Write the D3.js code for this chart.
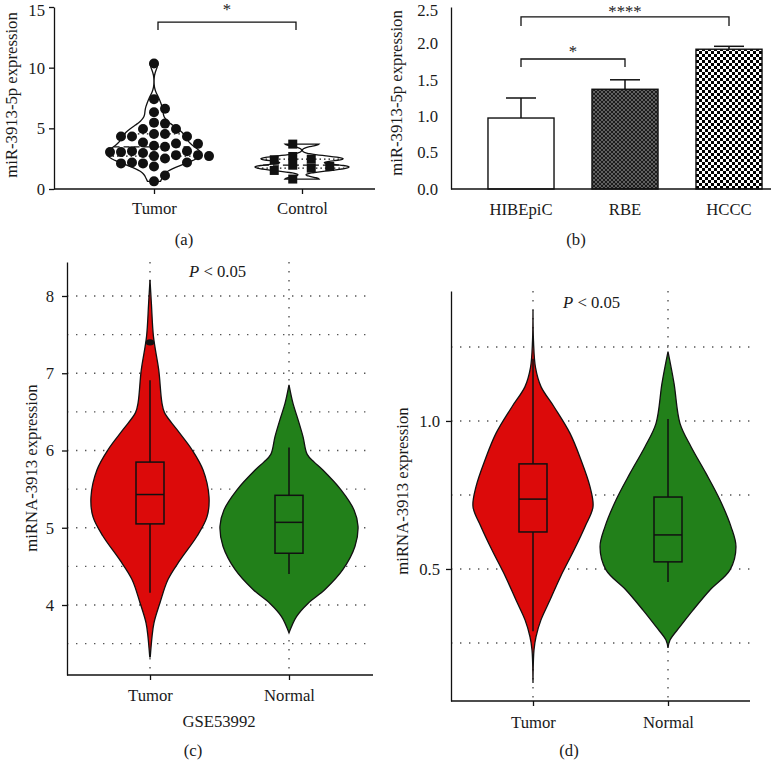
<!DOCTYPE html>
<html><head><meta charset="utf-8">
<script src="https://cdn.jsdelivr.net/npm/d3@7"></script>
<style>
body{margin:0;background:#fff}
svg{display:block}
text{font-family:"Liberation Serif","Times New Roman",serif;fill:#1a1a1a}
</style>
</head><body>
<svg id="chart" width="771" height="762"></svg>
<script>
// ---------------- DATA ----------------
// Panel (a)
const catsA = ["Tumor", "Control"];
const tumorA = [10.35, 7.39, 6.62, 6.32, 5.47, 5.39, 4.95, 4.95, 4.54, 4.54, 4.32, 4.32, 4.32, 3.83, 3.75, 3.72, 3.56, 3.48,
  3.12, 3.12, 3.04, 3.04, 2.96, 2.79, 2.79, 2.71, 2.71, 2.52, 2.19, 2.19, 2.11, 2.11, 1.86, 1.12, 0.63];
const controlA = [3.70, 2.68, 2.46, 2.41, 1.96, 1.86, 1.72, 1.53, 0.82];
const ticksA = [0, 5, 10, 15];
const sigA = [{ from: "Tumor", to: "Control", label: "*", level: 13.76, drop: 13.1 }];

// Panel (b)
const catsB = ["HIBEpiC", "RBE", "HCCC"];
const meanB = [0.975, 1.37, 1.92];
const errB = [0.275, 0.13, 0.04];
const ticksB = [0, 0.5, 1.0, 1.5, 2.0, 2.5];
const sigB = [
  { from: "HIBEpiC", to: "RBE", label: "*", level: 1.786, drop: 1.676 },
  { from: "HIBEpiC", to: "HCCC", label: "****", level: 2.363, drop: 2.239 }
];

// Panel (c) GSE53992 – violin density profiles [value, relative density]
const catsC = ["Tumor", "Normal"];
const tumorDensC = [[8.21, 0], [7.9, 0.02], [7.47, 0.05], [7.04, 0.125], [6.62, 0.17], [6.49, 0.207], [6.27, 0.386],
  [6.01, 0.6], [5.75, 0.757], [5.40, 0.843], [5.14, 0.814], [4.89, 0.671], [4.58, 0.429], [4.33, 0.257],
  [4.03, 0.143], [3.77, 0.057], [3.59, 0.029], [3.33, 0.004]];
const normalDensC = [[6.85, 0], [6.61, 0.057], [6.40, 0.129], [6.18, 0.2], [5.95, 0.26], [5.85, 0.36], [5.75, 0.48],
  [5.49, 0.743], [5.23, 0.929], [5.02, 0.986], [4.76, 0.943], [4.46, 0.771], [4.20, 0.514], [4.02, 0.271],
  [3.85, 0.107], [3.64, 0]];
// [lower whisker, Q1, median, Q3, upper whisker]
const tumorBoxC = [4.16, 5.05, 5.43, 5.85, 6.91];
const normalBoxC = [4.40, 4.67, 5.07, 5.42, 6.04];
const tumorOutC = [7.40];
const ticksC = [4, 5, 6, 7, 8];
const gridC = [3.5, 4, 4.5, 5, 5.5, 6, 6.5, 7, 7.5, 8];

// Panel (d)
const catsD = ["Tumor", "Normal"];
const tumorDensD = [[1.375, 0], [1.27, 0.007], [1.18, 0.036], [1.116, 0.114], [1.048, 0.3], [0.958, 0.529],
  [0.868, 0.686], [0.778, 0.814], [0.71, 0.857], [0.643, 0.743], [0.564, 0.586], [0.474, 0.393], [0.395, 0.243],
  [0.328, 0.114], [0.271, 0.043], [0.226, 0.014], [0.115, 0]];
const normalDensD = [[1.234, 0], [1.127, 0.086], [0.992, 0.171], [0.913, 0.329], [0.823, 0.543], [0.733, 0.743],
  [0.643, 0.9], [0.575, 0.971], [0.497, 0.886], [0.429, 0.6], [0.361, 0.357], [0.305, 0.171], [0.26, 0.029], [0.233, 0]];
const tumorBoxD = [0.29, 0.625, 0.736, 0.855, 1.21];
const normalBoxD = [0.456, 0.524, 0.615, 0.743, 1.007];
const ticksD = [0.5, 1.0];
const gridD = [0.25, 0.5, 0.75, 1.0, 1.25];

// ---------------- HELPERS ----------------
const svg = d3.select("#chart");
const INK = "#111";
const RED = "#dc0a0a", GREEN = "#22801a";
const FONT = "16.7px";

function styleAxis(g) {
  g.selectAll("text").style("font-size", FONT).attr("fill", "#1a1a1a");
  g.selectAll(".tick line").attr("stroke", INK).attr("stroke-width", 1.3);
  g.select(".domain").attr("stroke", INK).attr("stroke-width", 1.3);
}
// keep the topmost tick label fully inside the picture
function keepTopInside(g) {
  g.selectAll(".tick text").filter((d, i, n) => i === n.length - 1).attr("dy", "0.52em");
}
function hLine(g, x1, x2, y) {
  g.append("line").attr("x1", x1).attr("x2", x2).attr("y1", y).attr("y2", y)
    .attr("stroke", INK).attr("stroke-width", 1.3);
}
function yLabel(g, x, y, txt) {
  g.append("text").attr("transform", `translate(${x},${y}) rotate(-90)`)
    .attr("text-anchor", "middle").style("font-size", "16.7px").text(txt);
}
function label(g, x, y, txt, size) {
  g.append("text").attr("x", x).attr("y", y).attr("text-anchor", "middle")
    .style("font-size", size || FONT).text(txt);
}
function pText(g, x, y) {
  const t = g.append("text").attr("x", x).attr("y", y).style("font-size", FONT);
  t.append("tspan").style("font-style", "italic").text("P");
  t.append("tspan").text(" < 0.05");
}
function bracket(g, x1, x2, yTop, yDrop, lab, labY) {
  g.append("path").attr("d", `M${x1},${yDrop}V${yTop}H${x2}V${yDrop}`)
    .attr("fill", "none").attr("stroke", INK).attr("stroke-width", 1.3);
  label(g, (x1 + x2) / 2, labY, lab);
}

// ---------------- PANEL A ----------------
{
  const g = svg.append("g");
  const y = d3.scaleLinear().domain([0, 15]).range([189, 7]);
  const x = d3.scalePoint().domain(catsA).range([154, 302]);

  g.append("g").attr("transform", "translate(54,0)")
    .call(d3.axisLeft(y).tickValues(ticksA).tickSize(5).tickSizeOuter(0).tickPadding(4)).call(styleAxis).call(keepTopInside);
  const xa = g.append("g").attr("transform", "translate(0,189)")
    .call(d3.axisBottom(x).tickSize(5).tickSizeOuter(0).tickPadding(8)).call(styleAxis);
  xa.select(".domain").remove();
  hLine(g, 54, 375, 189);
  yLabel(g, 17, 95, "miR-3913-5p expression");
  label(g, 184, 245, "(a)");

  const kde = (vals, bw) => v => d3.mean(vals, t => Math.exp(-0.5 * ((v - t) / bw) ** 2));
  const groups = [
    { cat: "Tumor", vals: tumorA, bw: 0.5, shape: "circle", step: 11, dist: 10, shift: 0 },
    { cat: "Control", vals: controlA, bw: 0.17, shape: "square", step: 18.5, dist: 8, shift: -0.5 }
  ];
  groups.forEach(gr => {
    const f = kde(gr.vals, gr.bw);
    const [mn, mx] = d3.extent(gr.vals);
    const dens = d3.range(0, 81).map(i => { const v = mn + (mx - mn) * i / 80; return [v, f(v)]; });
    const w = d3.scaleLinear().domain([0, d3.max(dens, d => d[1])]).range([0, 47]);
    const cx = x(gr.cat);
    g.append("path").datum(dens)
      .attr("d", d3.area().y(d => y(d[0])).x0(d => cx - w(d[1])).x1(d => cx + w(d[1])).curve(d3.curveBasis))
      .attr("fill", "white").attr("stroke", INK).attr("stroke-width", 1.3);
    const s = gr.vals.slice().sort(d3.ascending);
    [[0.25, "1.5,3"], [0.5, "6,4"], [0.75, "1.5,3"]].forEach(([p, da]) => {
      const q = d3.quantile(s, p), hw = w(f(q));
      g.append("line").attr("x1", cx - hw).attr("x2", cx + hw).attr("y1", y(q)).attr("y2", y(q))
        .attr("stroke", INK).attr("stroke-width", 1.3).attr("stroke-dasharray", da);
    });
    // swarm placement
    const placed = [];
    const cand = [0, 1, -1, 2, -2, 3, -3, 4, -4, 5, -5, 6, -6];
    s.slice().reverse().forEach(v => {
      const py = y(v);
      for (const k of cand) {
        const px = k * gr.step;
        const ok = placed.every(p => gr.shape === "circle"
          ? Math.hypot(p.px - px, p.py - py) >= gr.dist
          : (Math.abs(p.px - px) >= gr.dist || Math.abs(p.py - py) >= gr.dist));
        if (ok) { placed.push({ px, py }); break; }
      }
    });
    placed.forEach(p => {
      const px = cx + p.px + gr.shift * gr.step;
      if (gr.shape === "circle") {
        g.append("circle").attr("cx", px).attr("cy", p.py).attr("r", 5).attr("fill", INK);
      } else {
        g.append("rect").attr("x", px - 4.5).attr("y", p.py - 4.5).attr("width", 9).attr("height", 9).attr("fill", INK);
      }
    });
  });
  sigA.forEach(s => bracket(g, x(s.from) + 4, x(s.to) - 6, y(s.level), y(s.drop), s.label, 15));
}

// ---------------- PANEL B ----------------
{
  const g = svg.append("g");
  const defs = svg.append("defs");
  const hatch = defs.append("pattern").attr("id", "hatch").attr("patternUnits", "userSpaceOnUse")
    .attr("width", 4).attr("height", 4);
  hatch.append("rect").attr("width", 4).attr("height", 4).attr("fill", "#606060");
  hatch.append("path").attr("d", "M0,0L4,4M4,0L0,4").attr("stroke", "#1c1c1c").attr("stroke-width", 1);
  const checker = defs.append("pattern").attr("id", "checker").attr("patternUnits", "userSpaceOnUse")
    .attr("width", 6).attr("height", 6);
  checker.append("rect").attr("width", 6).attr("height", 6).attr("fill", "#fff");
  checker.append("rect").attr("width", 3).attr("height", 3).attr("fill", "#000");
  checker.append("rect").attr("x", 3).attr("y", 3).attr("width", 3).attr("height", 3).attr("fill", "#000");
  const fills = ["#fff", "url(#hatch)", "url(#checker)"];

  const y = d3.scaleLinear().domain([0, 2.5]).range([189, 7]);
  const x = d3.scaleBand().domain(catsB).range([469, 781]).paddingInner(0.365).paddingOuter(0.1825);

  g.append("g").attr("transform", "translate(451,0)")
    .call(d3.axisLeft(y).tickValues(ticksB).tickFormat(d3.format(".1f")).tickSize(0).tickPadding(13)).call(styleAxis).call(keepTopInside);
  const xa = g.append("g").attr("transform", "translate(0,189)")
    .call(d3.axisBottom(x).tickSize(0).tickPadding(14)).call(styleAxis);
  xa.select(".domain").remove();

  catsB.forEach((c, i) => {
    const cx = x(c) + x.bandwidth() / 2;
    g.append("line").attr("x1", cx).attr("x2", cx).attr("y1", y(meanB[i])).attr("y2", y(meanB[i] + errB[i]))
      .attr("stroke", INK).attr("stroke-width", 1.5);
    g.append("line").attr("x1", cx - 15).attr("x2", cx + 15).attr("y1", y(meanB[i] + errB[i])).attr("y2", y(meanB[i] + errB[i]))
      .attr("stroke", INK).attr("stroke-width", 1.5);
    g.append("rect").attr("x", x(c)).attr("y", y(meanB[i])).attr("width", x.bandwidth())
      .attr("height", y(0) - y(meanB[i])).attr("fill", fills[i]).attr("stroke", INK).attr("stroke-width", 1.4);
  });
  hLine(g, 451, 771, 189);
  yLabel(g, 402, 93, "miR-3913-5p expression");
  label(g, 576, 245, "(b)");
  const mid = c => x(c) + x.bandwidth() / 2;
  bracket(g, mid(sigB[0].from), mid(sigB[0].to), y(sigB[0].level), y(sigB[0].drop), sigB[0].label, 57);
  bracket(g, mid(sigB[1].from), mid(sigB[1].to), y(sigB[1].level), y(sigB[1].drop), sigB[1].label, 17);
}

// ---------------- PANELS C & D ----------------
function violinPanel(cfg) {
  const g = svg.append("g");
  const y = d3.scaleLinear().domain(cfg.domain).range([cfg.bottom, cfg.top]);
  const x = d3.scalePoint().domain(cfg.cats).range(cfg.xs);
  const w = d3.scaleLinear().domain([0, 1]).range([0, 70]);
  const dot = { stroke: "#555", width: 1.4, dash: "1.4,7.6" };
  // grid
  cfg.grid.forEach(v => {
    g.append("line").attr("x1", cfg.left).attr("x2", cfg.right).attr("y1", y(v)).attr("y2", y(v))
      .attr("stroke", dot.stroke).attr("stroke-width", dot.width).attr("stroke-dasharray", dot.dash);
  });
  cfg.cats.forEach(c => {
    g.append("line").attr("x1", x(c)).attr("x2", x(c)).attr("y1", cfg.top).attr("y2", cfg.bottom)
      .attr("stroke", dot.stroke).attr("stroke-width", dot.width).attr("stroke-dasharray", dot.dash);
  });
  // violins
  cfg.cats.forEach((c, i) => {
    const cx = x(c);
    g.append("path").datum(cfg.dens[i])
      .attr("d", d3.area().y(d => y(d[0])).x0(d => cx - w(d[1])).x1(d => cx + w(d[1])).curve(d3.curveCatmullRom.alpha(0.5)))
      .attr("fill", cfg.colors[i]).attr("stroke", INK).attr("stroke-width", 1.3);
    const b = cfg.box[i];
    g.append("line").attr("x1", cx).attr("x2", cx).attr("y1", y(b[0])).attr("y2", y(b[4]))
      .attr("stroke", INK).attr("stroke-width", 1.5);
    g.append("rect").attr("x", cx - 14).attr("width", 28).attr("y", y(b[3])).attr("height", y(b[1]) - y(b[3]))
      .attr("fill", cfg.colors[i]).attr("stroke", INK).attr("stroke-width", 1.5);
    g.append("line").attr("x1", cx - 14).attr("x2", cx + 14).attr("y1", y(b[2])).attr("y2", y(b[2]))
      .attr("stroke", INK).attr("stroke-width", 1.5);
    (cfg.out[i] || []).forEach(o => {
      g.append("ellipse").attr("cx", cx).attr("cy", y(o)).attr("rx", 4.2).attr("ry", 3.2).attr("fill", INK);
    });
  });
  // axes
  g.append("g").attr("transform", `translate(${cfg.left},0)`)
    .call(d3.axisLeft(y).tickValues(cfg.ticks).tickFormat(cfg.fmt).tickSize(5).tickSizeOuter(0).tickPadding(cfg.tpad)).call(styleAxis);
  const xa = g.append("g").attr("transform", `translate(0,${cfg.bottom})`)
    .call(d3.axisBottom(x).tickSize(5).tickSizeOuter(0).tickPadding(cfg.xpad)).call(styleAxis);
  xa.select(".domain").remove();
  hLine(g, cfg.left, cfg.right, cfg.bottom);
  yLabel(g, cfg.ylabX, cfg.ylabY, "miRNA-3913 expression");
  pText(g, cfg.pX, cfg.pY);
  label(g, cfg.capX, 756, cfg.cap);
  if (cfg.xtitle) label(g, cfg.xtitleX, 727, cfg.xtitle);
}

violinPanel({
  cats: catsC, xs: [150, 289], domain: [3.094, 8.44], top: 262, bottom: 675, left: 67, right: 373,
  dens: [tumorDensC, normalDensC], box: [tumorBoxC, normalBoxC], out: [tumorOutC, []],
  colors: [RED, GREEN], grid: gridC, ticks: ticksC, fmt: d3.format("d"), tpad: 8, xpad: 9,
  ylabX: 37, ylabY: 468, pX: 189, pY: 277, cap: "(c)", capX: 193, xtitle: "GSE53992", xtitleX: 219
});
violinPanel({
  cats: catsD, xs: [533, 668], domain: [0.054, 1.439], top: 291, bottom: 701, left: 451, right: 750,
  dens: [tumorDensD, normalDensD], box: [tumorBoxD, normalBoxD], out: [[], []],
  colors: [RED, GREEN], grid: gridD, ticks: ticksD, fmt: d3.format(".1f"), tpad: 6, xpad: 10,
  ylabX: 408, ylabY: 491, pX: 563, pY: 308, cap: "(d)", capX: 569
});
</script>
</body></html>
